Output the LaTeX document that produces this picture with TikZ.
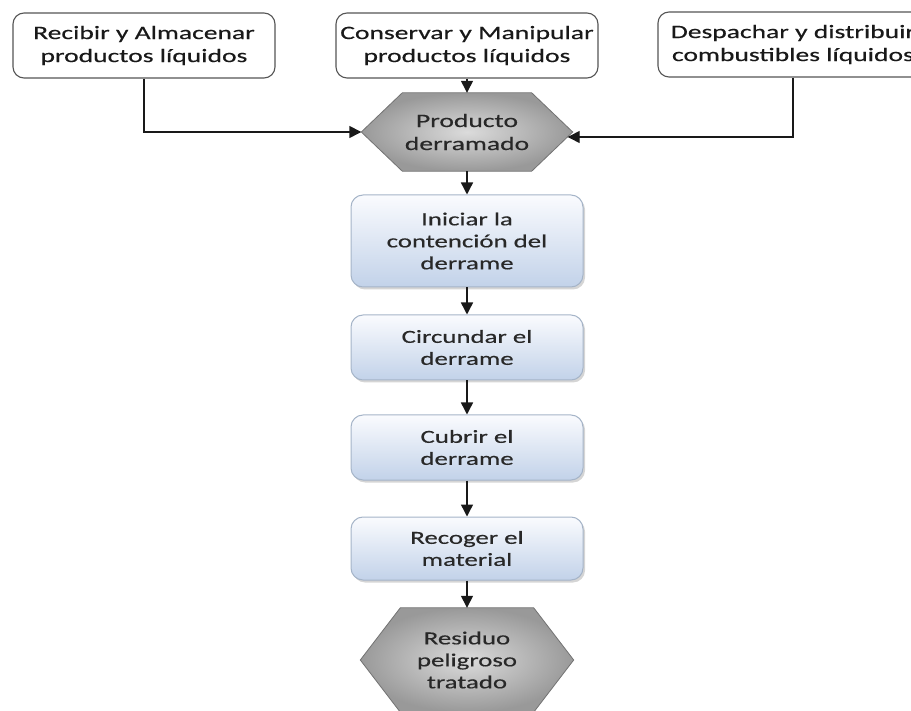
\documentclass[tikz,border=0pt]{standalone}
\usepackage{fontspec}
\setmainfont{Carlito}[FakeStretch=1.45,FakeBold=0.4]
\usetikzlibrary{arrows.meta,shadows,calc,backgrounds}

\definecolor{boxline}{RGB}{85,85,85}
\definecolor{stepedge}{RGB}{165,180,200}
\definecolor{steptop}{RGB}{250,251,254}
\definecolor{stepbot}{RGB}{194,210,233}
\definecolor{txt}{RGB}{40,40,40}

\begin{document}
\begin{tikzpicture}[x=1pt,y=-1pt,
  font=\fontsize{19}{23}\selectfont,
  srcbox/.style={draw=boxline, line width=1.1pt, rounded corners=11pt, fill=white,
    align=center, minimum height=65pt, text=black!90, inner sep=0pt},
  stepbox/.style={draw=stepedge, line width=1pt, rounded corners=12pt,
    top color=steptop, bottom color=stepbot, align=center, minimum width=232pt,
    inner sep=0pt, text=txt,
    drop shadow={shadow xshift=2pt, shadow yshift=-2.5pt, opacity=0.3, fill=black!55},
    font=\fontsize{18.5}{22}\selectfont},
  hexfield/.style={inner sep=0pt, align=center, text=txt},
  hexshape/.style={draw=black!55, line width=0.8pt, inner color=black!14,
    outer color=black!40},
  flow/.style={line width=1.4pt, draw=black!90, -{Triangle[length=12pt,width=12pt]}}
]
\useasboundingbox (0,0) rectangle (911,711);

% sources
\node[srcbox, minimum width=262pt] (box1) at (144,45.5) {Recibir y Almacenar\\productos líquidos};
\node[srcbox, minimum width=262pt] (box2) at (467,45.5) {Conservar y Manipular\\productos líquidos};
\node[srcbox, minimum width=270pt] (box3) at (793,44.5) {Despachar y distribuir\\combustibles líquidos};

% spilled product
\node[hexfield, minimum width=211pt, minimum height=78pt] (h1) at (467,132) {Producto\\derramado};

% procedure steps
\node[stepbox, minimum height=92pt] (s1) at (467,241) {Iniciar la\\contención del\\derrame};
\node[stepbox, minimum height=65pt] (s2) at (467,347.5) {Circundar el\\derrame};
\node[stepbox, minimum height=65pt] (s3) at (467,447.5) {Cubrir el\\derrame};
\node[stepbox, minimum height=63pt] (s4) at (467,548.5) {Recoger el\\material};

% treated waste
\node[hexfield, minimum width=213pt, minimum height=104pt, font=\fontsize{18.5}{22}\selectfont] (h2) at (467,660) {Residuo\\peligroso\\tratado};

\begin{scope}[on background layer]
  \path[hexshape] ($(h1.north west)+(41,0)$) -- ($(h1.north east)+(-41,0)$) -- (h1.east)
    -- ($(h1.south east)+(-41,0)$) -- ($(h1.south west)+(41,0)$) -- (h1.west) -- cycle;
  \path[hexshape] ($(h2.north west)+(40,0)$) -- ($(h2.north east)+(-40,0)$) -- (h2.east)
    -- ($(h2.south east)+(-40,0)$) -- ($(h2.south west)+(40,0)$) -- (h2.west) -- cycle;
\end{scope}

% connectors
\coordinate (h1r) at ($(h1.east)+(-5,5)$);
\draw[flow] (box1.south) |- (h1.west);
\draw[flow] (box2.south) -- (h1.north);
\draw[flow] (box3.south) |- (h1r);
\draw[flow] (h1.south) -- (s1.north);
\draw[flow] (s1.south) -- (s2.north);
\draw[flow] (s2.south) -- (s3.north);
\draw[flow] (s3.south) -- (s4.north);
\draw[flow] (s4.south) -- (h2.north);
\end{tikzpicture}
\end{document}
